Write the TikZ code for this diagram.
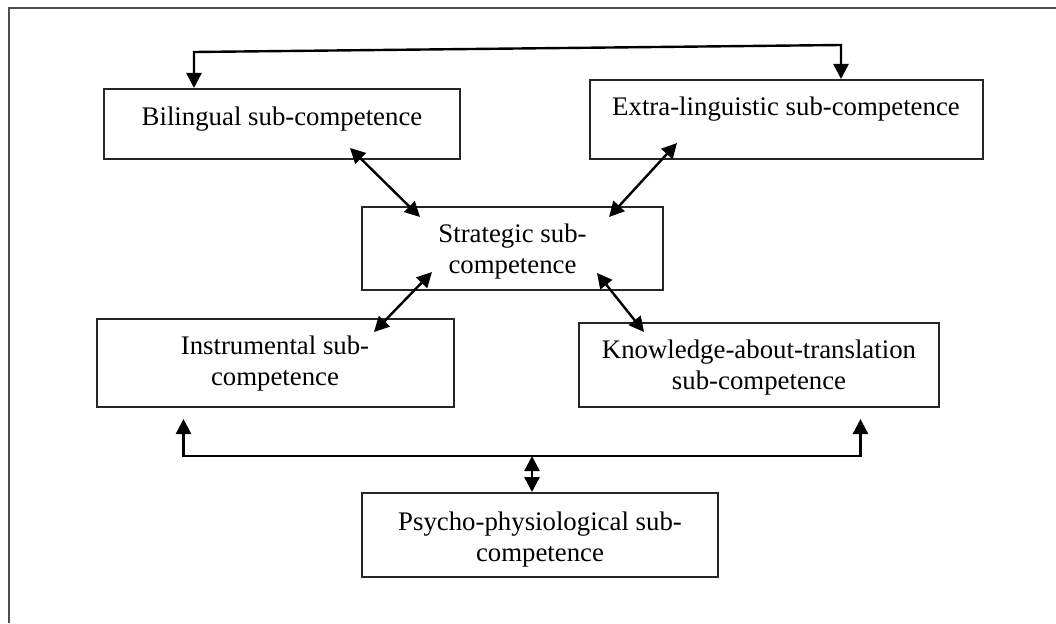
\documentclass[tikz,border=0pt]{standalone}
\usepackage{fontspec}
\setmainfont{Liberation Serif}
\usetikzlibrary{arrows.meta,fit,calc}
\begin{document}
\begin{tikzpicture}[x=1pt,y=-1pt,
  box/.style={draw=black!85, line width=2pt, inner sep=0pt, fit={#1}},
  lbl/.style={font=\fontsize{26.8}{31.6}\selectfont, inner sep=0pt, anchor=base},
  conn/.style={line width=2.4pt, draw=black, {Triangle[length=15pt,width=15pt]}-{Triangle[length=15pt,width=15pt]}},
  outerframe/.style={line width=2pt, draw=black!70}]
\useasboundingbox (0,0) rectangle (1056,623);
\draw[outerframe] (9,623) -- (9,8) -- (1056,8);

% boxes
\node[box={(104,89)(460,159)}] (bil) {};
\node[box={(590,80)(983,159)}] (ext) {};
\node[box={(362,207)(663,290)}] (str) {};
\node[box={(97,319)(454,407)}] (ins) {};
\node[box={(579,323)(939,407)}] (kno) {};
\node[box={(362,493)(718,577)}] (psy) {};

% texts
\node[lbl] (bilt) at (282,125) {Bilingual sub-competence};
\node[lbl] (extt) at (786,116) {Extra-linguistic sub-competence};
\node[lbl] (strt1) at (512.5,242) {Strategic sub-};
\node[lbl] (strt2) at (512.5,273.5) {competence};
\node[lbl] (inst1) at (275,354) {Instrumental sub-};
\node[lbl] (inst2) at (275,385.5) {competence};
\node[lbl] (knot1) at (759,358) {Knowledge-about-translation};
\node[lbl] (knot2) at (759,389.5) {sub-competence};
\node[lbl] (psyt1) at (540,530) {Psycho-physiological sub-};
\node[lbl] (psyt2) at (540,561.5) {competence};

% connector points
\coordinate (tl) at (194,52);
\coordinate (tr) at (841,45);
\coordinate (bl) at (183.5,456);
\coordinate (br) at (860.5,456);
\coordinate (bm) at (532,456);
\coordinate (bilA) at (350,148);
\coordinate (strA) at (420,217);
\coordinate (extA) at (677,143);
\coordinate (strB) at (609,217);
\coordinate (strC) at (432,272);
\coordinate (insA) at (374,332);
\coordinate (strD) at (597,273);
\coordinate (knoA) at (644,332);

% connectors
\draw[conn] (tl |- bil.north) -- (tl) -- (tr) -- (tr |- ext.north);
\draw[conn] (bilA) -- (strA);
\draw[conn] (extA) -- (strB);
\draw[conn] (strC) -- (insA);
\draw[conn] (strD) -- (knoA);
\draw[conn] ($(bl |- ins.south)+(0,11)$) -- (bl) -- (br) -- ($(br |- kno.south)+(0,11)$);
\draw[conn] (bm) -- (bm |- psy.north);
\end{tikzpicture}
\end{document}
